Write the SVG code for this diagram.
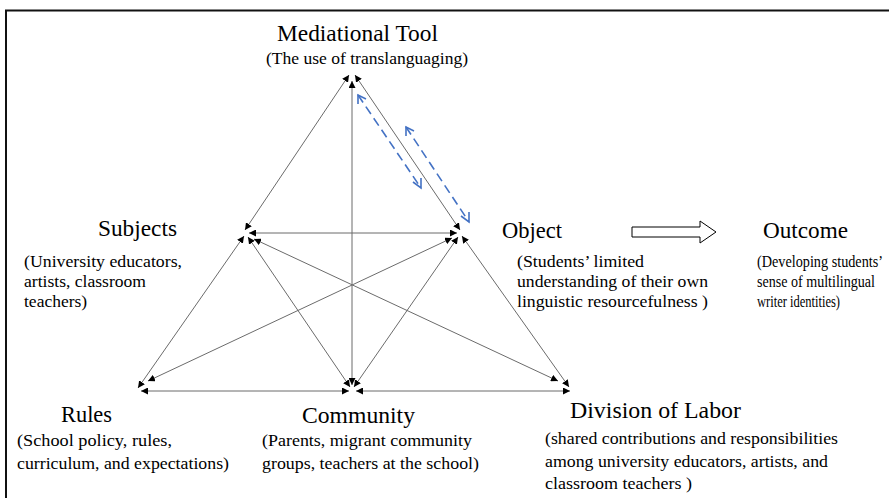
<svg xmlns="http://www.w3.org/2000/svg" width="889" height="498" viewBox="0 0 889 498">
<style>
text{font-family:"Liberation Serif","Times New Roman",serif;fill:#000}
.t{font-size:23px}
.d{font-size:17.5px}
.ln{stroke:#6b6b6b;stroke-width:1;fill:none;marker-start:url(#ah);marker-end:url(#ah)}
.bl{stroke:#4472C4;stroke-width:1.6;fill:none;stroke-dasharray:9,5}
.bh{stroke:#4472C4;stroke-width:1.6;fill:none}
</style>
<defs>
<marker id="ah" viewBox="0 0 10 10" refX="10" refY="5" markerWidth="7" markerHeight="7" markerUnits="userSpaceOnUse" orient="auto-start-reverse">
<path d="M0,0 L10,5 L0,10 z" fill="#000"/>
</marker>
</defs>
<rect width="889" height="498" fill="#fff"/>
<g id="frame" stroke="#111" stroke-width="2" fill="none">
<path d="M6,498 V10.5 H889"/>
</g>
<g id="connectors">
<line class="ln" x1="245" y1="230" x2="349" y2="75"/>
<line class="ln" x1="355" y1="75" x2="460" y2="230"/>
<line class="ln" x1="249" y1="233" x2="457" y2="233"/>
<line class="ln" x1="352" y1="81" x2="352" y2="385"/>
<line class="ln" x1="244" y1="236" x2="138" y2="388"/>
<line class="ln" x1="462" y1="236" x2="569" y2="387"/>
<line class="ln" x1="141" y1="391" x2="349" y2="391"/>
<line class="ln" x1="356" y1="391" x2="570" y2="391"/>
<line class="ln" x1="248" y1="237" x2="350" y2="387"/>
<line class="ln" x1="458" y1="237" x2="354" y2="387"/>
<line class="ln" x1="254" y1="239" x2="558" y2="381"/>
<line class="ln" x1="452" y1="238" x2="148" y2="381"/>
<line class="bl" x1="358" y1="95" x2="421" y2="188"/>
<path class="bh" d="M358,104 L358,95 L366,99"/>
<path class="bh" d="M413,182 L421,188 L421,178"/>
<line class="bl" x1="406" y1="127" x2="469" y2="222"/>
<path class="bh" d="M406,136 L406,127 L414,131"/>
<path class="bh" d="M461,216 L469,222 L469,212"/>
<polygon points="632,227 700,227 700,221 716,232 700,243 700,237 632,237" fill="#fff" stroke="#000" stroke-width="1"/>
</g>
<g id="tool">
<text class="t" x="277" y="41" textLength="161" lengthAdjust="spacingAndGlyphs">Mediational Tool</text>
<text class="d" x="266" y="64" textLength="202" lengthAdjust="spacingAndGlyphs">(The use of translanguaging)</text>
</g>
<g id="subjects">
<text class="t" x="98" y="236" textLength="79" lengthAdjust="spacingAndGlyphs">Subjects</text>
<text class="d" x="24" y="267" textLength="158" lengthAdjust="spacingAndGlyphs">(University educators,</text>
<text class="d" x="24" y="287" textLength="122" lengthAdjust="spacingAndGlyphs">artists, classroom</text>
<text class="d" x="24" y="307">teachers)</text>
</g>
<g id="object">
<text class="t" x="502" y="238" textLength="60" lengthAdjust="spacingAndGlyphs">Object</text>
<text class="d" x="517" y="267" textLength="127" lengthAdjust="spacingAndGlyphs">(Students’ limited</text>
<text class="d" x="517" y="287" textLength="191" lengthAdjust="spacingAndGlyphs">understanding of their own</text>
<text class="d" x="517" y="307" textLength="191" lengthAdjust="spacingAndGlyphs">linguistic resourcefulness )</text>
</g>
<g id="outcome">
<text class="t" x="763" y="238" textLength="85" lengthAdjust="spacingAndGlyphs">Outcome</text>
<text class="d" x="757" y="267" textLength="126" lengthAdjust="spacingAndGlyphs">(Developing students’</text>
<text class="d" x="757" y="287" textLength="118" lengthAdjust="spacingAndGlyphs">sense of multilingual</text>
<text class="d" x="757" y="307" textLength="83" lengthAdjust="spacingAndGlyphs">writer identities)</text>
</g>
<g id="rules">
<text class="t" x="61" y="422" textLength="51" lengthAdjust="spacingAndGlyphs">Rules</text>
<text class="d" x="17" y="446" textLength="155" lengthAdjust="spacingAndGlyphs">(School policy, rules,</text>
<text class="d" x="17" y="469" textLength="212" lengthAdjust="spacingAndGlyphs">curriculum, and expectations)</text>
</g>
<g id="community">
<text class="t" x="302" y="423" textLength="113" lengthAdjust="spacingAndGlyphs">Community</text>
<text class="d" x="262" y="446" textLength="210" lengthAdjust="spacingAndGlyphs">(Parents, migrant community</text>
<text class="d" x="262" y="469" textLength="217" lengthAdjust="spacingAndGlyphs">groups, teachers at the school)</text>
</g>
<g id="division">
<text class="t" x="570" y="418" textLength="171" lengthAdjust="spacingAndGlyphs">Division of Labor</text>
<text class="d" x="545" y="444" textLength="293" lengthAdjust="spacingAndGlyphs">(shared contributions and responsibilities</text>
<text class="d" x="545" y="467" textLength="283" lengthAdjust="spacingAndGlyphs">among university educators, artists, and</text>
<text class="d" x="545" y="489" textLength="147" lengthAdjust="spacingAndGlyphs">classroom teachers )</text>
</g>
</svg>
